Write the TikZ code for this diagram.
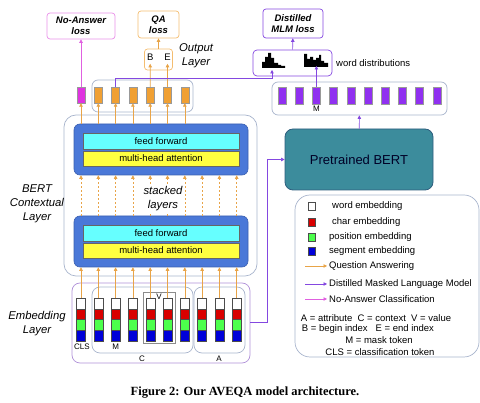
\documentclass[tikz,border=0pt]{standalone}
\usepackage{fontspec}
\setmainfont{Liberation Sans}
\newfontfamily\capfont{Liberation Serif}
\usetikzlibrary{arrows.meta}

\definecolor{qaorange}{HTML}{F0A033}
\definecolor{qaline}{HTML}{E8A448}
\definecolor{nafill}{HTML}{E033E0}
\definecolor{naline}{HTML}{E060E0}
\definecolor{mlmfill}{HTML}{9030F0}
\definecolor{mlmline}{HTML}{8448E0}
\definecolor{boxgrey}{HTML}{A8B4CC}
\definecolor{embline}{HTML}{B090D8}
\definecolor{blockblue}{HTML}{4A78D8}
\definecolor{blockedge}{HTML}{3A5FB0}
\definecolor{ffcyan}{HTML}{66FFFF}
\definecolor{mhayellow}{HTML}{FFFF40}
\definecolor{bertteal}{HTML}{3C8C9C}
\definecolor{bertedge}{HTML}{2E5E7E}

\newcommand{\labfont}{\fontsize{9.5}{11}\selectfont}
\newcommand{\tagfont}{\fontsize{8}{9}\selectfont}
\newcommand{\sidefont}{\fontsize{11.3}{14}\selectfont\itshape}

\begin{document}
\begin{tikzpicture}[x=1pt,y=-1pt,
  lossbox/.style={draw, line width=0.7pt, rounded corners=3pt, align=center, inner sep=0pt,
    font=\bfseries\itshape\labfont},
  grpbox/.style={draw=boxgrey, line width=0.7pt, rounded corners=6pt, inner sep=0pt},
  tok/.style={minimum width=8pt, minimum height=16pt, inner sep=0pt, draw=black!40, line width=0.3pt},
  cell/.style={minimum width=9pt, minimum height=10.75pt, inner sep=0pt, draw=black!70, line width=0.4pt},
  layerbar/.style={minimum width=156pt, minimum height=15.5pt, inner sep=0pt, draw=black!60,
    line width=0.4pt, font=\labfont},
  qaarrow/.style={draw=qaline, line width=0.6pt, -{Triangle[length=3.5pt,width=3.5pt]}},
  mlmarrow/.style={draw=mlmline, line width=0.6pt, -{Triangle[length=3.5pt,width=3.5pt]}},
  naarrow/.style={draw=naline, line width=0.6pt, -{Triangle[length=3.5pt,width=3.5pt]}},
  legtext/.style={anchor=west, inner sep=2pt, font=\labfont}]
\useasboundingbox (0,0) rectangle (480,403);

% losses
\node [lossbox, draw=naline!70, minimum width=68pt, minimum height=26pt] (naloss) at (81,26) {No-Answer\\loss};
\node [lossbox, draw=qaorange!70, minimum width=41pt, minimum height=27pt] (qaloss) at (158.5,24.5) {QA\\loss};
\node [lossbox, draw=mlmline, minimum width=60pt, minimum height=29pt] (mlmloss) at (293,23.5) {Distilled\\MLM loss};

% output layer
\node [draw=qaorange!70, line width=0.7pt, rounded corners=3pt, minimum width=28pt, minimum height=21pt] (outbox) at (158.5,59.5) {};
\node [font=\labfont] (lb) at (150.2,57) {B};
\node [font=\labfont] (le) at (167.5,57) {E};
\node [align=center, font=\sidefont] (outlab) at (196,56) {Output\\Layer};
\draw [qaarrow] (outbox) -- (qaloss);

\node [grpbox, minimum width=101pt, minimum height=32pt] (outgrp) at (142.5,96) {};
\node [tok, fill=nafill] (o1) at (81,95) {};
\foreach \i in {2,...,7}{
  \pgfmathsetmacro{\cx}{81+17.3*(\i-1)}
  \node [tok, fill=qaorange] (o\i) at (\cx,95) {};
}
\draw [naarrow] (o1) -- (naloss);
\draw [qaarrow] (o5) -- (lb);
\draw [qaarrow] (o6) -- (le);

% word distributions
\node [draw=mlmline, line width=0.7pt, rounded corners=4pt, minimum width=79pt, minimum height=26pt] (wdist) at (292.5,63) {};
\node [anchor=west, font=\labfont, inner sep=1pt] (wdlab) at (335,63) {word distributions};
\fill (262,68) -- (262,62) -- (265,62) -- (265,57) -- (268,57) -- (268,53) -- (271,53) -- (271,58)
  -- (274,58) -- (274,63) -- (278,63) -- (278,65) -- (281,65) -- (281,66) -- (285,66) -- (285,68) -- cycle;
\fill (304,67) -- (304,54) -- (307,54) -- (307,59) -- (310,59) -- (310,57) -- (313,57) -- (313,60)
  -- (316,60) -- (316,58) -- (319,58) -- (319,55) -- (321,55) -- (321,61) -- (324,61) -- (324,63)
  -- (328,63) -- (328,67) -- cycle;
\coordinate (hist1) at (272,70);
\coordinate (hist2) at (316.4,66);
\draw [mlmarrow] (wdist) -- (mlmloss);

\node [grpbox, minimum width=175pt, minimum height=33pt] (mlmgrp) at (359.5,98.5) {};
\foreach \i in {1,...,10}{
  \pgfmathsetmacro{\cx}{282+17.2*(\i-1)}
  \node [tok, fill=mlmfill, minimum height=17pt] (p\i) at (\cx,95.5) {};
}
\node [font=\tagfont] (pm) at (316.4,109) {M};
\draw [mlmarrow] (p3) -- (hist2);
\draw [mlmarrow] (o3.north) -- ++(0,-9) -| (hist1);

% pretrained BERT
\node [draw=bertedge, fill=bertteal, line width=0.8pt, rounded corners=8pt, minimum width=148pt,
  minimum height=61pt, font=\fontsize{13}{15}\selectfont, text=black!85!blue] (bert) at (359,159.5) {Pretrained BERT};
\draw [mlmarrow] (bert) -- (mlmgrp);

% BERT contextual layer
\node [draw=boxgrey, line width=0.7pt, rounded corners=12pt, minimum width=193pt, minimum height=161pt] (ctx) at (160.5,195.5) {};
\node [align=center, font=\sidefont] (ctxlab) at (37,204) {BERT\\Contextual\\Layer};
\node [draw=blockedge, fill=blockblue, line width=0.6pt, rounded corners=6pt, minimum width=174pt, minimum height=51pt] (blk1) at (161,149.5) {};
\node [layerbar, fill=ffcyan] (ff1) at (161,141) {feed forward};
\node [layerbar, fill=mhayellow] (mha1) at (161,158.5) {multi-head attention};
\node [draw=blockedge, fill=blockblue, line width=0.6pt, rounded corners=6pt, minimum width=174pt, minimum height=51pt] (blk2) at (161,241.5) {};
\node [layerbar, fill=ffcyan] (ff2) at (161,233) {feed forward};
\node [layerbar, fill=mhayellow] (mha2) at (161,250.5) {multi-head attention};

% embedding layer
\node [draw=embline, line width=0.7pt, rounded corners=8pt, minimum width=178pt, minimum height=80pt] (emb) at (161,323) {};
\node [align=center, font=\sidefont] (emblab) at (37,324) {Embedding\\Layer};
\node [grpbox, rounded corners=8pt, minimum width=101pt, minimum height=66pt] (cgrp) at (142.5,320) {};
\node [grpbox, rounded corners=8pt, minimum width=51pt, minimum height=66pt] (agrp) at (219.5,320) {};
\node [draw=black!45, line width=0.6pt, minimum width=32pt, minimum height=51pt] (vgrp) at (159,317.5) {};

\foreach \i in {1,...,10}{
  \pgfmathsetmacro{\cx}{81+17.3*(\i-1)}
  \node [cell, fill=white] (w\i) at (\cx,303.4) {};
  \node [cell, fill=red!85!black] (r\i) at (\cx,314.1) {};
  \node [cell, fill=green!70!white] (g\i) at (\cx,324.9) {};
  \node [cell, fill=blue!85!black] (s\i) at (\cx,335.6) {};
  \draw [qaarrow] (w\i.north) -- (w\i.north |- blk2.south);
  \draw [qaarrow, dash pattern=on 2pt off 2pt] (w\i.north |- blk2.north) -- (w\i.north |- blk1.south);
}
\foreach \i in {1,...,7}{
  \draw [qaarrow] (w\i.north |- blk1.north) -- (o\i);
}
\node [fill=white, inner sep=1pt, align=center, font=\sidefont] (stack) at (163,199) {stacked\\layers};

\node [font=\tagfont, inner sep=0pt] (cls) at (82,347) {CLS};
\node [font=\tagfont, inner sep=0pt] (mtag) at (115.6,347) {M};
\node [font=\tagfont, inner sep=0pt] (vtag) at (159,296.5) {V};
\node [font=\tagfont, inner sep=0pt] (ctag) at (142,359) {C};
\node [font=\tagfont, inner sep=0pt] (atag) at (219,359) {A};

\draw [mlmarrow] (emb.east |- 0,322) -- (267,322) |- (bert.west);

% legend
\node [draw=boxgrey, line width=0.7pt, rounded corners=15pt, minimum width=184pt, minimum height=162pt] (legend) at (387,276) {};
\node [cell, minimum width=7pt, minimum height=8pt, fill=white] (lsq1) at (312,206) {};
\node [cell, minimum width=7pt, minimum height=8pt, fill=red!85!black] (lsq2) at (312,222) {};
\node [cell, minimum width=7pt, minimum height=8pt, fill=green!70!white] (lsq3) at (312,237) {};
\node [cell, minimum width=7pt, minimum height=8pt, fill=blue!85!black] (lsq4) at (312,251) {};
\node [legtext] (lt1) at (330,206) {word embedding};
\node [legtext] (lt2) at (330,222) {char embedding};
\node [legtext] (lt3) at (327,237) {position embedding};
\node [legtext] (lt4) at (327,251) {segment embedding};
\node [legtext] (lt5) at (327,266) {Question Answering};
\node [legtext] (lt6) at (327,284) {Distilled Masked Language Model};
\node [legtext] (lt7) at (327,299) {No-Answer Classification};
\coordinate (la5) at (305,266);
\coordinate (la6) at (305,284);
\coordinate (la7) at (305,299);
\draw [qaarrow] (la5) -- (lt5.west);
\draw [mlmarrow] (la6) -- (lt6.west);
\draw [naarrow] (la7) -- (lt7.west);
\node [font=\labfont] (key1) at (376,318) {A = attribute\ \ C = context\ \ V = value};
\node [font=\labfont] (key2) at (368,329) {B = begin index\ \ \ E = end index};
\node [font=\labfont] (key3) at (379,340.5) {M = mask token};
\node [font=\labfont] (key4) at (380,352.5) {CLS = classification token};

% caption
\node [font=\capfont\bfseries\fontsize{12.5}{14}\selectfont] (caption) at (245,393) {Figure 2: Our AVEQA model architecture.};

\end{tikzpicture}
\end{document}
